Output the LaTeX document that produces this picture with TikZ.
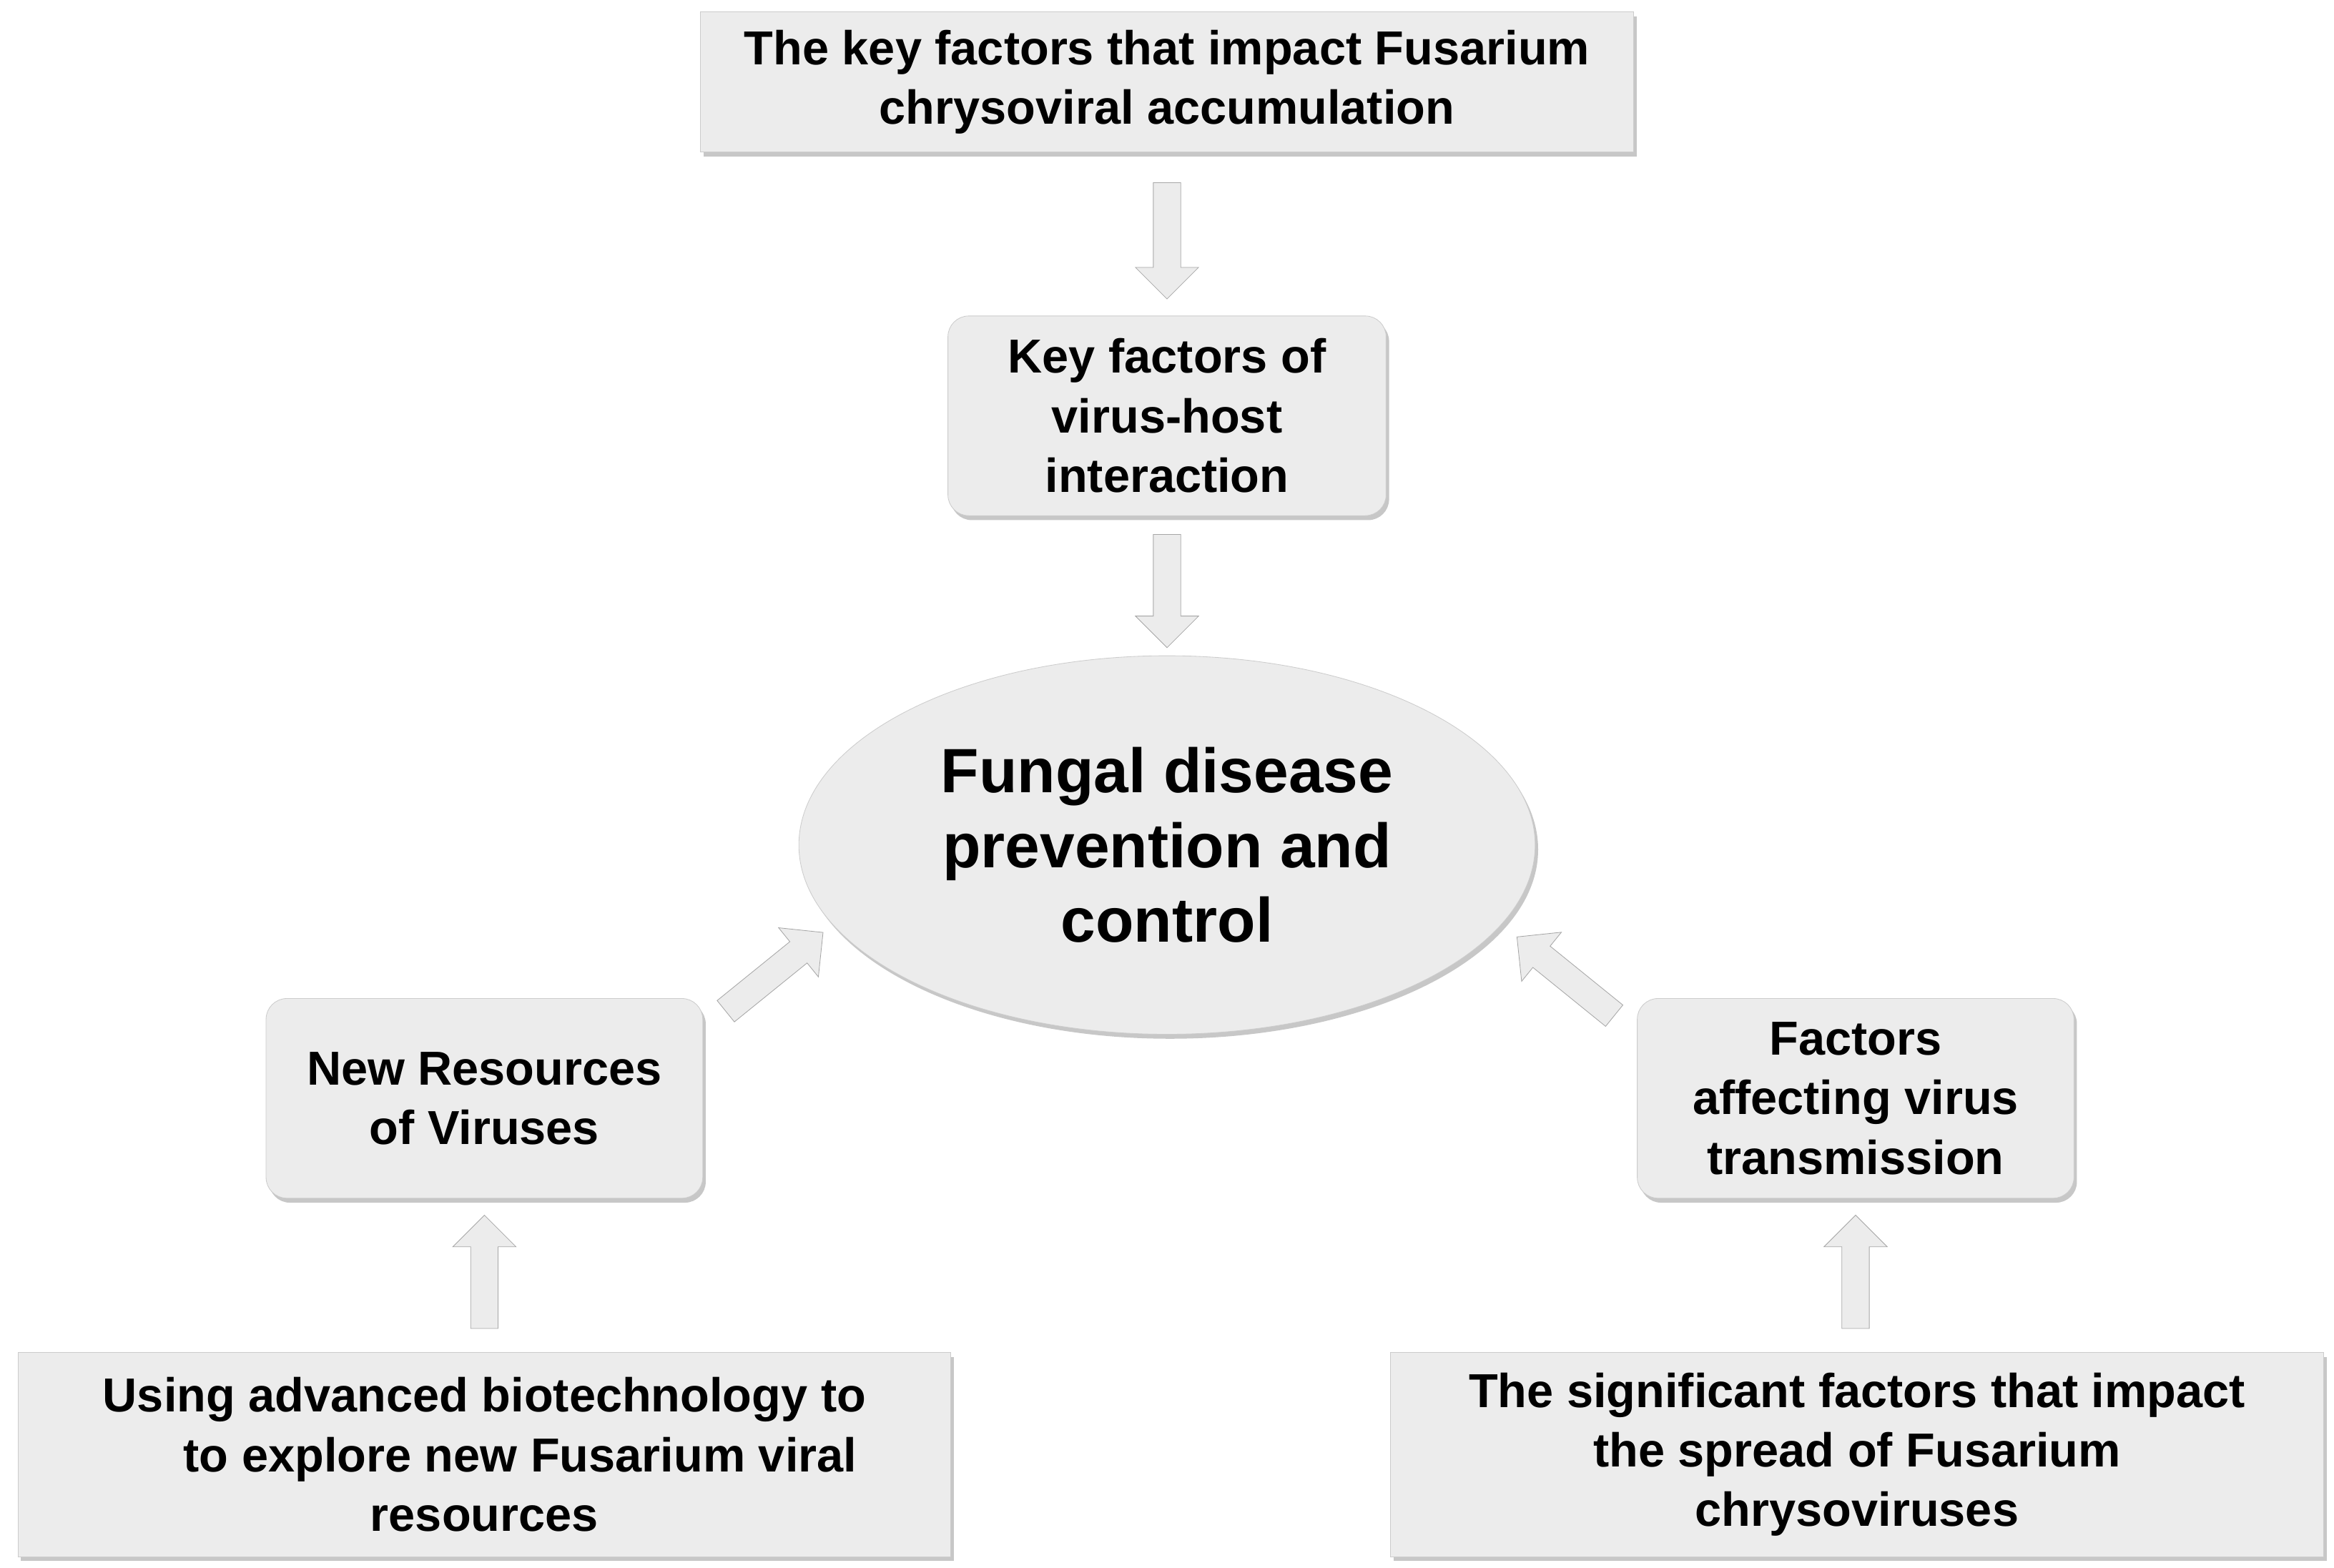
\documentclass[tikz,border=0pt]{standalone}
\usepackage{fontspec}
\setmainfont{Liberation Sans}
\usetikzlibrary{shapes.geometric,shapes.arrows,shadows}
\begin{document}
\begin{tikzpicture}[x=1pt,y=-1pt,
 box/.style={draw=gray!40,fill=gray!15,drop shadow={shadow xshift=2pt,shadow yshift=-3pt,fill=gray!55,opacity=0.8},align=center,font=\fontsize{32}{40}\selectfont\bfseries,inner sep=0pt},
 arr/.style={single arrow,draw=gray!70,fill=gray!15,single arrow head extend=12pt,inner sep=9pt,minimum height=#1,single arrow head indent=0pt}]
\useasboundingbox (0,0) rectangle (1566,1052);
\fill[white] (0,0) rectangle (1566,1052);
\node[box,minimum width=626,minimum height=94] (top) at (783,55) {The key factors that impact Fusarium\\chrysoviral accumulation};
\node[box,rounded corners=14pt,minimum width=294,minimum height=134] (kf) at (783,279) {Key factors of\\virus-host\\interaction};
\node[ellipse,draw=gray!40,fill=gray!15,drop shadow={shadow xshift=2pt,shadow yshift=-3pt,fill=gray!55,opacity=0.8},minimum width=494,minimum height=254,align=center,font=\fontsize{42}{50}\selectfont\bfseries,inner sep=0pt] (fd) at (783,567) {Fungal disease\\prevention and\\control};
\node[box,rounded corners=14pt,minimum width=293,minimum height=134] (nr) at (325,737) {New Resources\\of Viruses};
\node[box,rounded corners=14pt,minimum width=293,minimum height=134] (fa) at (1245,737) {Factors\\affecting virus\\transmission};
\node[box,minimum width=626,minimum height=137] (bl) at (325,976) {Using advanced biotechnology to\\\hspace*{1.5em}to explore new Fusarium viral\\resources};
\node[box,minimum width=626,minimum height=137] (br) at (1246,976) {The significant factors that impact\\the spread of Fusarium\\chrysoviruses};
\node[arr=78,rotate=-90] (a1) at (783,157) {};
\node[arr=76,rotate=-90] (a2) at (783,392) {};
\node[arr=76,rotate=90] (a3) at (325,858) {};
\node[arr=76,rotate=90] (a4) at (1245,858) {};
\node[arr=84,rotate=39] (a5) at (516,655) {};
\node[arr=84,rotate=141] (a6) at (1054,658) {};
\end{tikzpicture}
\end{document}
